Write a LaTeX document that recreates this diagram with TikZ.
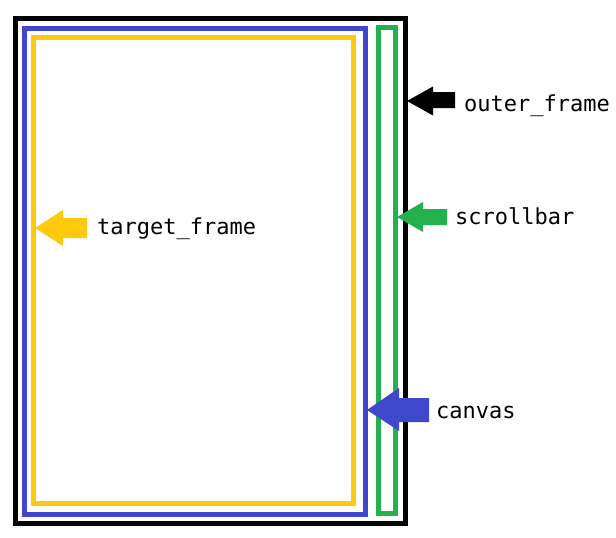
\documentclass[tikz,border=0pt]{standalone}
\usepackage{fontspec}
\setmonofont{DejaVu Sans Mono}
\definecolor{pblue}{HTML}{3F48CC}
\definecolor{pyellow}{HTML}{FFC90E}
\definecolor{pgreen}{HTML}{22B14C}
\begin{document}
\begin{tikzpicture}[x=1pt,y=-1pt,
  frame/.style={line width=5pt},
  lbl/.style={anchor=base west,inner sep=0pt,font=\ttfamily\fontsize{22}{24}\selectfont}]
\useasboundingbox (0,0) rectangle (616,538);
% frames
\draw[frame,black] (15.5,18.5) rectangle (405,523.5);
\draw[frame,pblue] (24.5,28.5) rectangle (365,514);
\draw[frame,pyellow] (33.5,37.5) rectangle (353.5,503.5);
\draw[frame,pgreen] (378.5,27.5) rectangle (395,513.5);
% arrows
\fill[black] (407,101) -- (433,86.5) -- (433,92) -- (455,92) -- (455,108) -- (433,108) -- (433,115.5) -- cycle;
\fill[pgreen] (397,217) -- (423,202) -- (423,209) -- (447,209) -- (447,225) -- (423,225) -- (423,232) -- cycle;
\fill[pyellow] (35,228) -- (63,210) -- (63,218) -- (87,218) -- (87,238) -- (63,238) -- (63,246) -- cycle;
\fill[pblue] (367,410) -- (399,388) -- (399,398) -- (429,398) -- (429,422) -- (399,422) -- (399,431) -- cycle;
% labels
\node[lbl] (outer) at (464,111.5) {outer\_frame};
\node[lbl] (scroll) at (455,224.5) {scrollbar};
\node[lbl] (target) at (97,234.5) {target\_frame};
\node[lbl] (canvas) at (436,418.5) {canvas};
\end{tikzpicture}
\end{document}
